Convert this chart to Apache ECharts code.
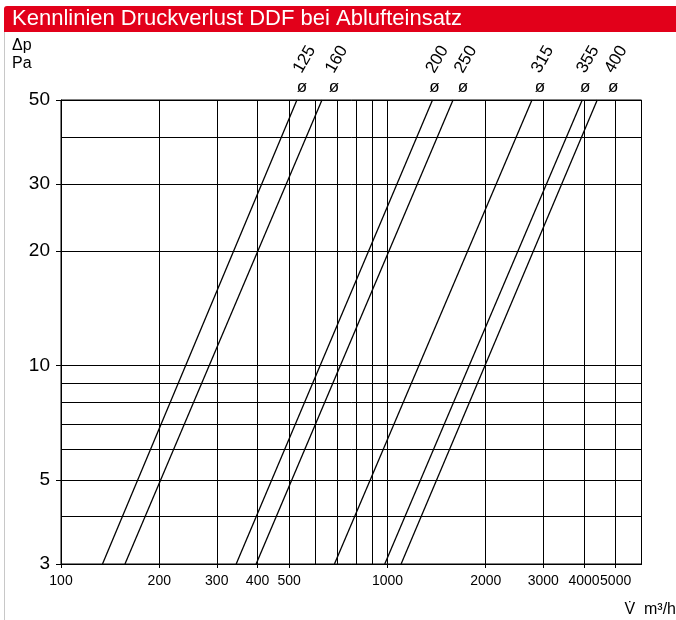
<!DOCTYPE html>
<html>
<head>
<meta charset="utf-8">
<script src="https://cdn.jsdelivr.net/npm/echarts@6/dist/echarts.min.js"></script>
<style>
html,body{margin:0;padding:0;background:#fff;}
#c{width:676px;height:620px;}
</style>
</head>
<body>
<div id="c"></div>
<script>
// ---- data ----
const diameters = ['125', '160', '200', '250', '315', '355', '400'];
const flowAt3Pa = [134, 157, 344, 396, 688, 981, 1101];      // m³/h at Δp = 3 Pa
const flowAt50Pa = [528, 630, 1374, 1588, 2771, 3950, 4391]; // m³/h at Δp = 50 Pa
const pressureLow = 3;
const pressureHigh = 50;
const xLabelValues = [100, 200, 300, 400, 500, 1000, 2000, 3000, 4000, 5000];
const xGridValues = [100, 200, 300, 400, 500, 600, 700, 800, 900, 1000, 2000, 3000, 4000, 5000];
const yLabelValues = [3, 5, 10, 20, 30, 50];
const yGridValues = [3, 4, 5, 6, 7, 8, 9, 10, 20, 30, 40, 50];
const titleText = 'Kennlinien Druckverlust DDF bei Ablufteinsatz';

// ---- chart ----
const chart = echarts.init(document.getElementById('c'), null, {renderer: 'canvas'});
const sans = "'Liberation Sans', Arial, sans-serif";
const ink = '#000';
const plain = v => String(Math.round(v));

const series = diameters.map((d, i) => ({
  type: 'line',
  name: d,
  xAxisIndex: 0,
  yAxisIndex: 0,
  data: [[flowAt3Pa[i], pressureLow], [flowAt50Pa[i], pressureHigh]],
  showSymbol: false,
  symbol: 'none',
  lineStyle: {color: ink, width: 1.3},
  animation: false,
  silent: true
}));

chart.setOption({
  animation: false,
  backgroundColor: '#fff',
  grid: {left: 61, right: 34.5, top: 100, bottom: 56, show: true, borderColor: ink, borderWidth: 1, backgroundColor: 'transparent'},
  xAxis: [
    {
      type: 'log', logBase: 10, min: 100, max: 6000,
      axisLine: {show: true, lineStyle: {color: ink, width: 1}},
      axisTick: {show: true, customValues: xLabelValues, length: 4, lineStyle: {color: ink}},
      axisLabel: {customValues: xLabelValues, formatter: plain, showMinLabel: true, showMaxLabel: true, hideOverlap: false, interval: 0, margin: 10, fontFamily: sans, fontSize: 14, color: ink},
      splitLine: {show: false}
    },
    {
      type: 'log', logBase: 10, min: 100, max: 6000,
      axisLine: {show: false},
      axisTick: {show: false, customValues: xGridValues},
      axisLabel: {show: false},
      splitLine: {show: true, lineStyle: {color: ink, width: 1}}
    }
  ],
  yAxis: [
    {
      type: 'log', logBase: 10, min: 3, max: 50,
      axisLine: {show: true, lineStyle: {color: ink, width: 1}},
      axisTick: {show: true, customValues: yLabelValues, length: 5, lineStyle: {color: ink}},
      axisLabel: {customValues: yLabelValues, formatter: plain, showMinLabel: true, showMaxLabel: true, margin: 11, fontFamily: sans, fontSize: 19, color: ink},
      splitLine: {show: false}
    },
    {
      type: 'log', logBase: 10, min: 3, max: 50,
      position: 'left',
      axisLine: {show: false},
      axisTick: {show: false, customValues: yGridValues},
      axisLabel: {show: false},
      splitLine: {show: true, lineStyle: {color: ink, width: 1}}
    }
  ],
  series: series
});

// labels above the line ends, placed through the chart's own scales
const nudges = [5, 12, 2, 10, 8, 3, 16];
const graphics = [
  {type: 'rect', shape: {x: 4, y: 6, width: 672, height: 26, r: [3, 0, 0, 0]}, style: {fill: '#e2001a'}},
  {type: 'text', x: 12, y: 19, style: {text: titleText, font: '22px ' + sans, fill: '#fff', textAlign: 'left', textVerticalAlign: 'middle'}},
  {type: 'rect', shape: {x: 4, y: 32, width: 1, height: 588}, style: {fill: '#c8c8c8'}},
  {type: 'text', x: 12, y: 46, style: {text: 'Δp', font: '16px ' + sans, fill: ink, textAlign: 'left', textVerticalAlign: 'middle'}},
  {type: 'text', x: 12, y: 64, style: {text: 'Pa', font: '16px ' + sans, fill: ink, textAlign: 'left', textVerticalAlign: 'middle'}},
  {type: 'text', x: 676, y: 610, style: {text: 'V̇  m³/h', font: '16px ' + sans, fill: ink, textAlign: 'right', textVerticalAlign: 'middle'}}
];
diameters.forEach((d, i) => {
  const p = chart.convertToPixel({seriesIndex: i}, [flowAt50Pa[i], pressureHigh]);
  const x = p[0] + nudges[i];
  graphics.push({type: 'text', x: x, y: p[1] - 13, style: {text: 'ø', font: '17px ' + sans, fill: ink, textAlign: 'center', textVerticalAlign: 'middle'}});
  graphics.push({type: 'text', x: x + 3, y: p[1] - 24, rotation: Math.PI / 3, style: {text: d, font: '17px ' + sans, fill: ink, textAlign: 'left', textVerticalAlign: 'bottom'}});
});
chart.setOption({graphic: graphics});
</script>
</body>
</html>
